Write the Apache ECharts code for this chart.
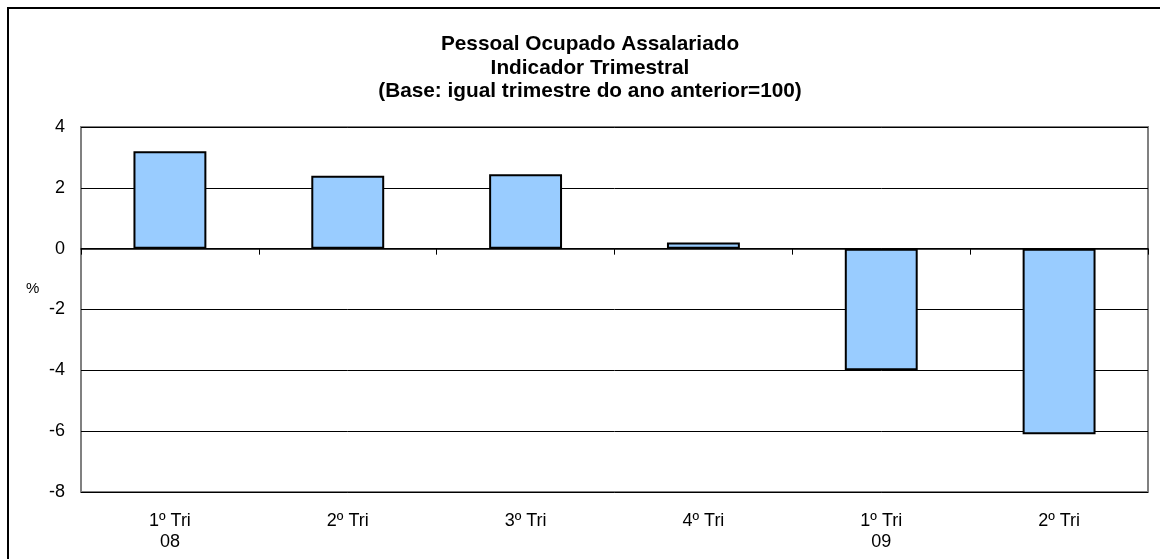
<!DOCTYPE html>
<html>
<head>
<meta charset="utf-8">
<script src="https://cdn.jsdelivr.net/npm/echarts@6/dist/echarts.min.js"></script>
<style>
html,body{margin:0;padding:0;background:#fff;}
#chart{width:1160px;height:559px;}
</style>
</head>
<body>
<div id="chart"></div>
<script>
var titleLines = ['Pessoal Ocupado Assalariado', 'Indicador Trimestral', '(Base: igual trimestre do ano anterior=100)'];
var categories = ['1º Tri\n08', '2º Tri', '3º Tri', '4º Tri', '1º Tri\n09', '2º Tri'];
var values = [3.2, 2.4, 2.45, 0.2, -4.0, -6.1];
var yTicks = {min: -8, max: 4, interval: 2};
var yUnit = '%';

var chart = echarts.init(document.getElementById('chart'), null, {renderer: 'canvas'});
var font = '"Liberation Sans", Arial, sans-serif';
chart.setOption({
  animation: false,
  backgroundColor: '#ffffff',
  title: {
    text: titleLines.join('\n'),
    left: 585,
    textAlign: 'center',
    top: 28,
    textStyle: {fontFamily: font, fontSize: 20.8, fontWeight: 'bold', color: '#000', lineHeight: 23.5}
  },
  graphic: [
    {type: 'rect', shape: {x: 8, y: 8, width: 1160, height: 600}, style: {fill: null, stroke: '#000', lineWidth: 2}, silent: true},
    {type: 'text', left: 26, top: 281, style: {text: yUnit, font: '15px "Liberation Sans", Arial, sans-serif', fill: '#000'}}
  ],
  grid: {left: 81, top: 127, right: 12, bottom: 67, show: true, borderColor: '#808080', borderWidth: 2, backgroundColor: 'transparent'},
  xAxis: [
    {
      type: 'category',
      data: categories,
      position: 'bottom',
      axisLine: {show: false, onZero: false},
      axisTick: {show: false},
      axisLabel: {fontFamily: font, fontSize: 18, color: '#000', margin: 19, lineHeight: 21, interval: 0}
    },
    {
      type: 'category',
      data: categories,
      position: 'bottom',
      axisLine: {show: true, onZero: true, onZeroAxisIndex: 0, lineStyle: {color: '#000', width: 1.5}},
      axisTick: {show: true, length: 6, interval: 0, lineStyle: {color: '#000', width: 1}},
      axisLabel: {show: false}
    }
  ],
  yAxis: {
    type: 'value',
    min: yTicks.min, max: yTicks.max, interval: yTicks.interval,
    axisLine: {show: false},
    axisTick: {show: false},
    splitLine: {show: true, lineStyle: {color: '#000', width: 1}},
    axisLabel: {fontFamily: font, fontSize: 18, color: '#000', margin: 16}
  },
  series: [
    {
      type: 'bar',
      data: values,
      xAxisIndex: 0,
      barWidth: '41%',
      z: 1,
      itemStyle: {color: '#99ccff', borderColor: '#000', borderWidth: 2}
    }
  ]
});
</script>
</body>
</html>
